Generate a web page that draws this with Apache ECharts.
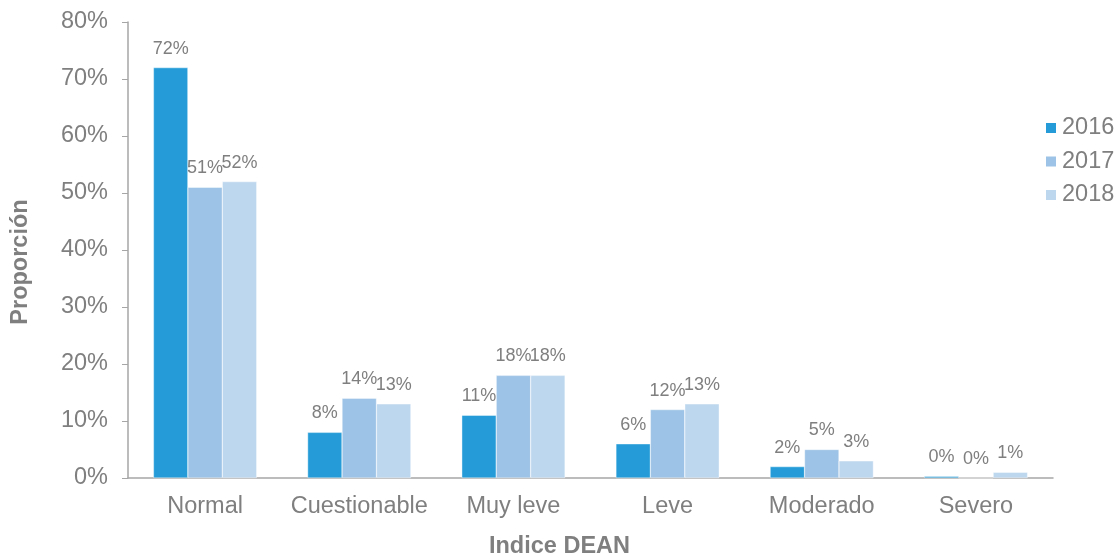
<!DOCTYPE html>
<html>
<head>
<meta charset="utf-8">
<script src="https://cdn.jsdelivr.net/npm/echarts@6/dist/echarts.min.js"></script>
<style>
  html, body { margin: 0; padding: 0; background: #fff; }
  #chart { width: 1120px; height: 560px; }
</style>
</head>
<body>
<div id="chart"></div>
<script>
// DEAN index categories and share of each year (in %)
const categories = ['Normal', 'Cuestionable', 'Muy leve', 'Leve', 'Moderado', 'Severo'];
const years = ['2016', '2017', '2018'];
const values2016 = [72, 8, 11, 6, 2, 0.3];
const values2017 = [51, 14, 18, 12, 5, 0];
const values2018 = [52, 13, 18, 13, 3, 1];
const yTicks = [0, 10, 20, 30, 40, 50, 60, 70, 80];

const colors = ['#259cd8', '#9dc3e6', '#bdd7ee'];
const gray = '#7f7f7f';
const fontFamily = '"Liberation Sans", Arial, sans-serif';

const seriesValues = [values2016, values2017, values2018];

const chart = echarts.init(document.getElementById('chart'));
chart.setOption({
  animation: false,
  textStyle: { fontFamily: fontFamily },
  color: colors,
  grid: { left: 128, right: 67, top: 22, bottom: 82, outerBoundsMode: 'none', containLabel: false },
  legend: {
    orient: 'vertical',
    left: 1044,
    top: 116,
    padding: 0,
    itemWidth: 12,
    itemHeight: 12,
    itemGap: 9.5,
    icon: 'rect',
    textStyle: { color: gray, fontSize: 23.5, fontFamily: fontFamily },
    data: years
  },
  xAxis: {
    type: 'category',
    data: categories,
    name: 'Indice DEAN',
    nameLocation: 'middle',
    nameGap: 57,
    nameTextStyle: { color: gray, fontSize: 23.5, fontWeight: 'bold', fontFamily: fontFamily, padding: [0, 62, 0, 0] },
    axisLine: { lineStyle: { color: '#a6a6a6', width: 1.5 } },
    axisTick: { show: false },
    axisLabel: { color: gray, fontSize: 23.5, margin: 17, interval: 0, fontFamily: fontFamily }
  },
  yAxis: {
    type: 'value',
    min: yTicks[0],
    max: yTicks[yTicks.length - 1],
    interval: 10,
    name: 'Proporción',
    nameLocation: 'middle',
    nameGap: 95,
    nameTextStyle: { color: gray, fontSize: 23.5, fontWeight: 'bold', fontFamily: fontFamily, padding: [0, 24, 0, 0] },
    axisLine: { show: true, lineStyle: { color: '#a6a6a6', width: 1.5 } },
    axisTick: { show: true, inside: false, length: 6, lineStyle: { color: '#a6a6a6' } },
    splitLine: { show: false },
    axisLabel: { color: gray, fontSize: 23.5, margin: 20, fontFamily: fontFamily, formatter: v => v + '%' }
  },
  series: years.map((y, i) => ({
    name: y,
    type: 'bar',
    data: seriesValues[i],
    barGap: '0%',
    barCategoryGap: '33%',
    itemStyle: { color: colors[i], borderColor: '#ffffff', borderWidth: 0.4 },
    label: {
      show: true,
      position: 'top',
      distance: 10,
      color: gray,
      fontSize: 18,
      fontFamily: fontFamily,
      formatter: p => Math.round(p.value) + '%'
    }
  }))
});
</script>
</body>
</html>
